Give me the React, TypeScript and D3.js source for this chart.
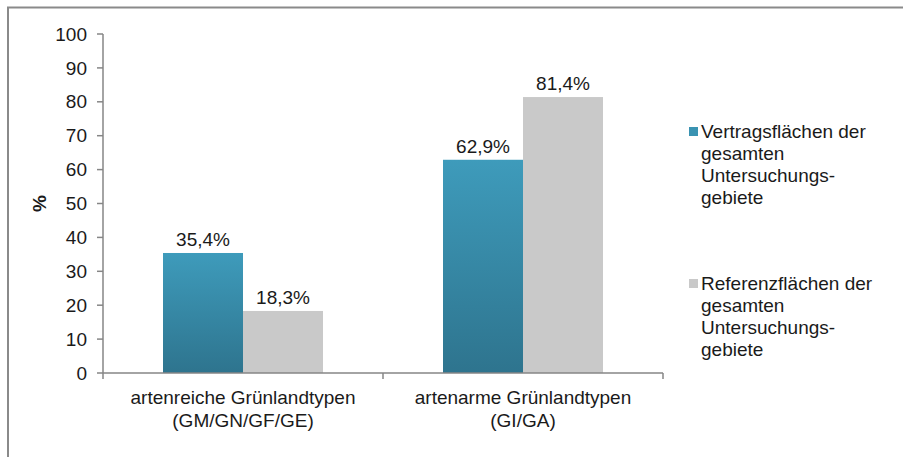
import React from 'react'
import * as d3 from 'd3'

const categories = ['artenreiche Grünlandtypen\n(GM/GN/GF/GE)', 'artenarme Grünlandtypen\n(GI/GA)']
const seriesNames = ['Vertragsflächen der\ngesamten\nUntersuchungs-\ngebiete', 'Referenzflächen der\ngesamten\nUntersuchungs-\ngebiete']
const vertragsValues = [35.4, 62.9]
const referenzValues = [18.3, 81.4]
const yTicks = [0, 10, 20, 30, 40, 50, 60, 70, 80, 90, 100]

const W = 903
const H = 457
const FONT = '"Liberation Sans", Arial, sans-serif'
const FS = 19
const TEXT = '#1a1a1a'
const AXIS = '#868686'

const fmt = (v: number) => v.toFixed(1).replace('.', ',') + '%'

const App = () => {
    const plot = { left: 103, right: 663, top: 34, bottom: 373 }

    const y = d3.scaleLinear().domain([0, 100]).range([plot.bottom, plot.top])
    const x0 = d3.scaleBand().domain(categories).range([plot.left, plot.right])
    const series = [0, 1]
    const x1 = d3.scaleBand<number>()
        .domain(series)
        .range([0, x0.bandwidth()])
        .paddingOuter(0.75)
        .paddingInner(0)

    const values = [vertragsValues, referenzValues]
    const fills = ['url(#blueGrad)', '#c9c9c9']

    return (
        <svg width={W} height={H} style={{ position: 'absolute', left: 0, top: 0 }} fontFamily={FONT}>
            <defs>
                <linearGradient id="blueGrad" x1="0" y1="0" x2="0" y2="1">
                    <stop offset="0%" stopColor="#3e9bbb" />
                    <stop offset="100%" stopColor="#2e748e" />
                </linearGradient>
            </defs>
            <rect x={0} y={0} width={W} height={H} fill="#fff" />
            <rect x={8} y={7.5} width={W + 20} height={H + 20} fill="none" stroke="#8a8a8a" strokeWidth={2} />

            {/* bars */}
            {categories.map((c, ci) => (
                <g key={c} transform={`translate(${x0(c)},0)`}>
                    {series.map(s => {
                        const v = values[s][ci]
                        const bx = x1(s) as number
                        return (
                            <g key={s}>
                                <rect x={bx} y={y(v)} width={x1.bandwidth()} height={y(0) - y(v)} fill={fills[s]} />
                                <text x={bx + x1.bandwidth() / 2} y={y(v) - 7} textAnchor="middle" fontSize={FS} fill={TEXT}>
                                    {fmt(v)}
                                </text>
                            </g>
                        )
                    })}
                </g>
            ))}

            {/* y axis */}
            <line x1={plot.left} x2={plot.left} y1={plot.top} y2={plot.bottom} stroke={AXIS} strokeWidth={1.5} />
            {yTicks.map(t => (
                <g key={t}>
                    <line x1={plot.left - 6} x2={plot.left} y1={y(t)} y2={y(t)} stroke={AXIS} strokeWidth={1.5} />
                    <text x={plot.left - 16} y={y(t)} dy="0.35em" textAnchor="end" fontSize={FS} fill={TEXT}>{t}</text>
                </g>
            ))}
            <text transform={`translate(46,${(plot.top + plot.bottom) / 2}) rotate(-90)`} textAnchor="middle" fontSize={FS} fontWeight="bold" fill={TEXT}>%</text>

            {/* x axis */}
            <line x1={plot.left} x2={plot.right} y1={plot.bottom} y2={plot.bottom} stroke={AXIS} strokeWidth={1.5} />
            {[...categories.map(c => x0(c) as number), plot.right].map(px => (
                <line key={px} x1={px} x2={px} y1={plot.bottom} y2={plot.bottom + 6} stroke={AXIS} strokeWidth={1.5} />
            ))}
            {categories.map(c => (
                <text key={c} x={(x0(c) as number) + x0.bandwidth() / 2} y={plot.bottom + 31} textAnchor="middle" fontSize={FS} fill={TEXT}>
                    {c.split('\n').map((line, i) => (
                        <tspan key={i} x={(x0(c) as number) + x0.bandwidth() / 2} dy={i === 0 ? 0 : 23}>{line}</tspan>
                    ))}
                </text>
            ))}

            {/* legend */}
            {seriesNames.map((name, i) => {
                const ly = 138 + i * 152
                return (
                    <g key={name}>
                        <rect x={689} y={ly - 11} width={9} height={9} fill={i === 0 ? '#3a93b2' : '#c9c9c9'} />
                        <text x={701} y={ly} fontSize={FS} fill={TEXT}>
                            {name.split('\n').map((line, j) => (
                                <tspan key={j} x={701} dy={j === 0 ? 0 : 22}>{line}</tspan>
                            ))}
                        </text>
                    </g>
                )
            })}
        </svg>
    )
}

export default App
